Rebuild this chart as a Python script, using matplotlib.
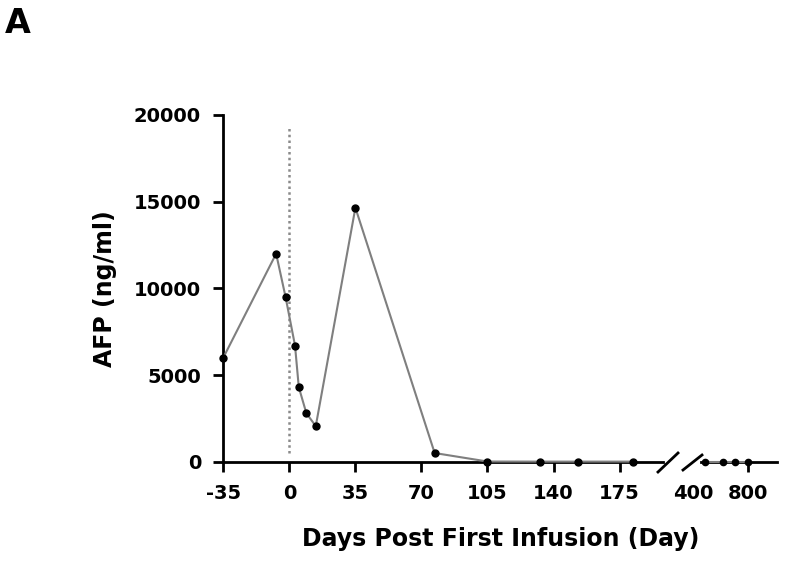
import matplotlib
matplotlib.use("Agg")
import matplotlib.pyplot as plt
from matplotlib.lines import Line2D

plt.rcParams['font.family'] = ['DejaVu Sans']
plt.rcParams['font.weight'] = 'bold'
plt.rcParams['axes.unicode_minus'] = False

# data
days_early = [-35, -7, -2, 3, 5, 9, 14, 35, 77, 105, 133, 153, 182]
afp_early = [6000, 12000, 9500, 6700, 4300, 2800, 2050, 14650, 500, 10, 5, 5, 5]
days_late = [490, 620, 705, 800]
afp_late = [5, 5, 5, 5]

yticks = [0, 5000, 10000, 15000, 20000]
xticks_early = [-35, 0, 35, 70, 105, 140, 175]
xticks_late = [400, 800]

W, H = 800, 561
fig = plt.figure(figsize=(8, 5.61), dpi=100)

def px(x0, y0, x1, y1):
    # pixel box (from top-left) -> figure fraction rect
    return [x0 / W, (H - y1) / H, (x1 - x0) / W, (y1 - y0) / H]

ax1 = fig.add_axes(px(223.3, 115, 663, 461.7))
ax2 = fig.add_axes(px(688, 115, 777, 461.7))

line_c = '#7f7f7f'
for ax in (ax1, ax2):
    ax.set_ylim(0, 20000)
    ax.spines['top'].set_visible(False)
    ax.spines['right'].set_visible(False)
    ax.spines['bottom'].set_linewidth(2)
    ax.spines['left'].set_linewidth(2)
    ax.tick_params(width=2, length=7, labelsize=14)
    ax.tick_params(axis='x', pad=9)
    ax.tick_params(axis='y', pad=9)
    ax.patch.set_alpha(0)

ax1.plot(days_early, afp_early, color=line_c, lw=1.5, marker='o', ms=5,
         mfc='black', mec='black', clip_on=False, zorder=3)
ax1.plot([0, 0], [500, 19300], color='#8a8a8a', lw=1.8, ls=(0, (1, 1.3)))
ax1.set_xlim(-35, 198)
ax1.set_xticks(xticks_early)
ax1.set_yticks(yticks)
ax1.set_ylabel('AFP (ng/ml)', fontsize=17, fontweight='bold', labelpad=12)

ax2.plot(days_late, afp_late, color=line_c, lw=1.5, marker='o', ms=4.5,
         mfc='black', mec='black', clip_on=False, zorder=3)
ax2.set_xlim(364, 1011)
ax2.set_xticks(xticks_late)
ax2.xaxis.get_major_ticks()[0].tick1line.set_visible(False)
ax2.spines['bottom'].set_bounds(460, 1011)
ax2.spines['left'].set_visible(False)
ax2.set_yticks([])

# axis break slashes
for (xa, ya, xb, yb) in [(658, 472, 678, 453), (683, 470, 702, 455)]:
    fig.add_artist(Line2D([xa / W, xb / W], [(H - ya) / H, (H - yb) / H],
                          transform=fig.transFigure, color='black', lw=2))

fig.text(501 / W, (H - 539) / H, 'Days Post First Infusion (Day)', fontsize=17,
         fontweight='bold', ha='center', va='center')
fig.text(5 / W, (H - 7) / H, 'A', fontsize=24, fontweight='bold', ha='left', va='top')

fig.savefig('out.png', dpi=100)
